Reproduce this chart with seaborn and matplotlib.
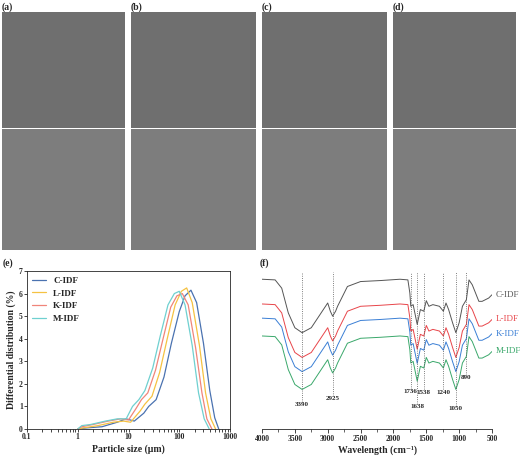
import numpy as np
import matplotlib.pyplot as plt
import seaborn as sns

sns.set_style("ticks")
plt.rcParams['font.family'] = ['Liberation Serif', 'DejaVu Serif']
plt.rcParams['font.weight'] = 'bold'

W, H = 520, 457

# particle size distribution (e)
c_x = [1, 1.5, 3, 6, 9, 13, 20, 25, 35, 50, 70, 100, 130, 170, 220, 300, 400, 500, 600]
c_y = [0, 0.05, 0.1, 0.3, 0.45, 0.35, 0.7, 1.0, 1.3, 2.3, 3.8, 5.2, 5.9, 6.15, 5.6, 3.8, 1.7, 0.5, 0]
l_x = [1, 1.3, 2.5, 5, 8, 11, 17, 21, 29, 41, 58, 83, 110, 140, 180, 250, 330, 420, 520]
l_y = [0, 0.05, 0.15, 0.3, 0.35, 0.3, 0.8, 1.1, 1.45, 2.5, 4.0, 5.5, 6.1, 6.25, 5.6, 3.7, 1.6, 0.45, 0]
k_x = [1, 1.2, 2, 4, 7, 10, 14, 18, 24, 34, 48, 68, 90, 115, 150, 210, 280, 350, 440]
k_y = [0, 0.1, 0.2, 0.35, 0.45, 0.4, 0.9, 1.3, 1.6, 2.6, 4.0, 5.4, 5.9, 6.0, 5.5, 3.6, 1.6, 0.45, 0]
m_x = [1, 1.2, 1.8, 3.5, 6, 9, 12, 16, 21, 30, 42, 60, 80, 100, 130, 180, 240, 310, 390]
m_y = [0, 0.15, 0.2, 0.35, 0.45, 0.45, 1.0, 1.3, 1.7, 2.7, 4.1, 5.5, 6.0, 6.1, 5.5, 3.7, 1.6, 0.45, 0]

# FTIR spectra (f), arbitrary stacked units
wn = [4000, 3800, 3700, 3600, 3500, 3390, 3250, 3100, 3000, 2960, 2925, 2880, 2850, 2700, 2500, 2200,
      1900, 1780, 1750, 1736, 1700, 1638, 1590, 1538, 1500, 1460, 1400, 1300, 1240, 1200, 1160, 1100,
      1050, 1000, 950, 890, 850, 800, 750, 700, 650, 600, 550, 500]
c_t = [68, 70, 95, 170, 215, 230, 215, 170, 140, 165, 180, 165, 150, 90, 75, 72, 68, 70, 110, 150, 145, 205,
       160, 165, 133, 150, 145, 150, 165, 140, 160, 200, 230, 200, 150, 130, 70, 85, 110, 135, 135, 130, 125, 115]
l_t = [143, 145, 170, 245, 290, 305, 290, 245, 215, 240, 255, 240, 225, 165, 150, 147, 143, 145, 185, 225, 220, 280,
       235, 240, 208, 225, 220, 225, 240, 215, 235, 275, 305, 275, 225, 205, 145, 160, 185, 210, 210, 205, 200, 190]
k_t = [186, 188, 213, 288, 333, 348, 333, 288, 258, 283, 298, 283, 268, 208, 193, 190, 186, 188, 228, 268, 263, 323,
       278, 283, 251, 268, 263, 268, 283, 258, 278, 318, 348, 318, 268, 248, 188, 203, 228, 253, 253, 248, 243, 233]
m_t = [240, 242, 267, 342, 387, 402, 387, 342, 312, 337, 352, 337, 322, 262, 247, 244, 240, 242, 282, 322, 317, 377,
       332, 337, 305, 322, 317, 322, 337, 312, 332, 372, 402, 372, 322, 302, 242, 257, 282, 307, 307, 302, 297, 287]
peaks = [3390, 2925, 1736, 1638, 1538, 1240, 1050, 890]
peak_label_y = [448, 430, 408, 455, 410, 410, 460, 365]

names = ["C-IDF", "L-IDF", "K-IDF", "M-IDF"]
psd_colors = ["#4a72b0", "#f5c242", "#f0857a", "#6fd0d0"]
ir_colors = ["#555555", "#e8454a", "#3a7fd5", "#3aa86b"]


def box(x0, y0, x1, y1):
    return [x0 / W, 1 - y1 / H, (x1 - x0) / W, (y1 - y0) / H]


fig = plt.figure(figsize=(5.2, 4.57), dpi=100)

# SEM micrograph panels (placeholders)
cols = [(2, 125), (131, 256), (262, 387), (393, 516)]
for i, (x0, x1) in enumerate(cols):
    for j, (y0, y1) in enumerate([(12, 128), (129, 250)]):
        ax = fig.add_axes(box(x0, y0, x1, y1))
        ax.set_facecolor("#6f6f6f" if j == 0 else "#7d7d7d")
        ax.set_xticks([]); ax.set_yticks([])
        for s in ax.spines.values():
            s.set_visible(False)
    fig.text(x0 / W, 1 - 7 / H, "(%s)" % "abcd"[i], fontsize=7, fontweight='bold', va='center')

# (e) particle size
ax = fig.add_axes(box(27, 271, 230, 429))
for nm, xs, ys, c in zip(names, [c_x, l_x, k_x, m_x], [c_y, l_y, k_y, m_y], psd_colors):
    sns.lineplot(x=xs, y=ys, ax=ax, color=c, lw=0.9, label=nm)
ax.set_xscale('log')
ax.set_xlim(0.1, 1000)
ax.set_ylim(0, 7)
ax.set_xticks([0.1, 1, 10, 100, 1000])
ax.set_xticklabels(["0.1", "1", "10", "100", "1000"])
ax.tick_params(labelsize=5.5, length=2, width=0.6, pad=1)
for s in ax.spines.values():
    s.set_linewidth(0.6)
ax.set_xlabel("Particle size (μm)", fontsize=7, fontweight='bold', labelpad=2)
ax.set_ylabel("Differential distribution (%)", fontsize=7, fontweight='bold', labelpad=2)
ax.legend(loc='upper left', frameon=False, fontsize=6.5, handlelength=1.5, borderaxespad=0.2)
fig.text(3 / W, 1 - 263 / H, "(e)", fontsize=7, fontweight='bold', va='center')

# (f) FTIR
ax = fig.add_axes(box(262, 270, 492, 429))
for nm, ys, c in zip(names, [c_t, l_t, k_t, m_t], ir_colors):
    sns.lineplot(x=wn, y=[-v for v in ys], ax=ax, color=c, lw=0.7)
    ax.text(445, -ys[-1], nm, color=c, fontsize=6.5, va='center', fontweight='normal', clip_on=False)
for p, ly in zip(peaks, peak_label_y):
    ax.vlines(p, -ly + 8, -45, color='#555555', lw=0.6, ls=':')
    ax.text(p, -ly, str(p), fontsize=5, ha='center', va='center', fontweight='bold')
ax.set_xlim(4000, 500)
ax.set_ylim(-522, -40)
ax.set_yticks([])
for s in ['left', 'top', 'right']:
    ax.spines[s].set_visible(False)
ax.spines['bottom'].set_linewidth(0.6)
ax.set_xticks(range(4000, 499, -500))
ax.set_xticks(range(4000, 499, -250), minor=True)
ax.tick_params(labelsize=5.5, length=3, width=0.6, pad=1)
ax.tick_params(which='minor', length=2, width=0.5)
ax.set_xlabel("Wavelength (cm⁻¹)", fontsize=7, fontweight='bold', labelpad=2)
fig.text(260 / W, 1 - 263 / H, "(f)", fontsize=7, fontweight='bold', va='center')

fig.savefig("out.png", dpi=100)
